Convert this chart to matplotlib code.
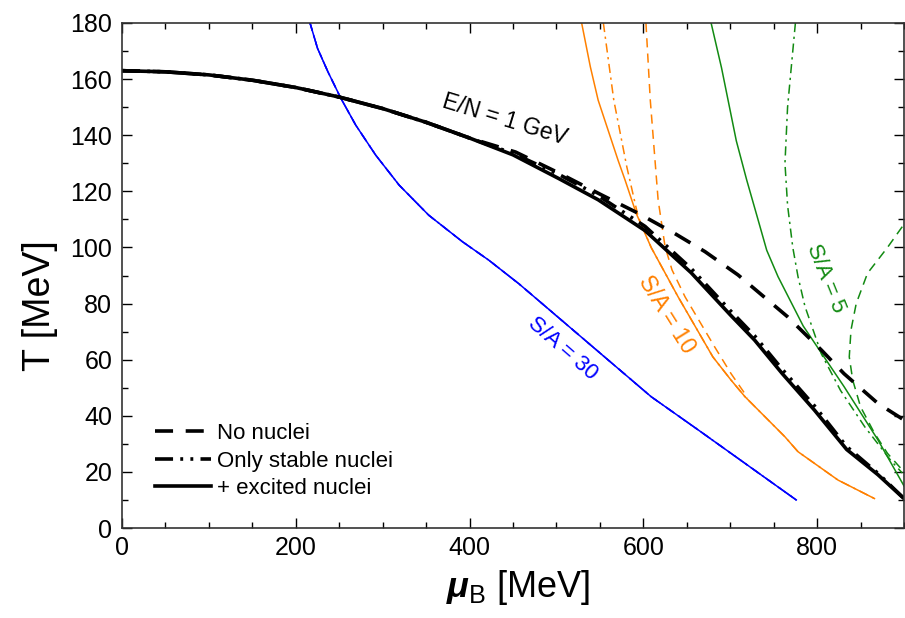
import matplotlib
matplotlib.use("Agg")
import matplotlib.pyplot as plt
from matplotlib.ticker import MultipleLocator

plt.rcParams["font.family"] = ["Liberation Sans", "DejaVu Sans"]
plt.rcParams["mathtext.fontset"] = "custom"
plt.rcParams["mathtext.rm"] = "Liberation Sans"
plt.rcParams["mathtext.it"] = "Liberation Sans:italic:bold"

# E/N = 1 GeV freeze-out lines
mu_no_nuclei = [0, 50, 100, 150, 200, 250, 300, 350, 400, 453, 503, 552, 594, 636, 671, 709, 766, 805, 831, 870, 900]
T_no_nuclei = [163, 162.6, 161.5, 159.6, 157, 153.6, 149.5, 144.6, 139, 134, 126.5, 118.7, 112.2, 105, 98.5, 90.2, 75.3, 63.4, 55, 44.4, 38.5]

mu_stable = [0, 50, 100, 150, 200, 250, 300, 350, 400, 450, 503, 548, 602, 655, 700, 728, 760, 797, 834, 870, 900]
T_stable = [163, 162.6, 161.5, 159.6, 157, 153.6, 149.5, 144.6, 139, 133.5, 126, 118.5, 107.5, 92.5, 77.5, 68.5, 56.5, 43.5, 29, 19.5, 10.5]

mu_excited = [0, 50, 100, 150, 200, 250, 300, 350, 400, 450, 503, 548, 602, 655, 700, 728, 760, 797, 834, 870, 900]
T_excited = [163, 162.6, 161.5, 159.6, 157, 153.6, 149.5, 144.6, 139, 133, 124.5, 117, 106, 91, 76, 67, 55, 42, 28, 19, 10.5]

# S/A = 30 (all three variants coincide)
mu_sa30 = [216, 225, 237, 252, 269, 292, 319, 353, 392, 422, 457, 609, 663, 776]
T_sa30 = [180.4, 171, 162.6, 153.1, 143.6, 132.9, 122.2, 111.5, 102, 95.5, 87, 46.8, 35, 10]

# S/A = 10
mu_sa10_excited = [529, 539, 548, 571, 579, 592, 609, 640, 680, 701, 717, 763, 778, 824, 866]
T_sa10_excited = [180, 164.4, 152.5, 131, 124, 112, 100, 82.4, 61, 52.7, 46.8, 32.5, 27.2, 17.1, 10.5]
mu_sa10_stable = [554, 566, 581, 594, 609, 640, 680, 701, 717, 763, 778, 824, 866]
T_sa10_stable = [180, 152.5, 128.7, 111, 100, 82.4, 61, 52.7, 46.8, 32.5, 27.2, 17.1, 10.5]
mu_sa10_none = [603, 608, 617, 625, 633, 648, 682, 701, 720]
T_sa10_none = [180, 152.5, 117, 100.3, 92, 82.4, 64.6, 55, 46.5]

# S/A = 5
mu_sa5_excited = [678, 690, 707, 719, 731, 742, 755, 784, 831, 870, 900]
T_sa5_excited = [180, 164, 138, 124, 111, 99, 89.6, 72, 50.4, 31.4, 15]
mu_sa5_stable = [775, 766, 763, 766, 772, 778, 786, 805, 827, 855, 885, 898]
T_sa5_stable = [180, 150, 130, 115, 100, 89.6, 79, 62, 49, 36, 24, 19.6]
mu_sa5_none = [898, 881, 858, 845, 839, 837, 841, 850, 866, 881, 898]
T_sa5_none = [107.4, 100, 90.8, 80, 70.6, 61, 52.7, 43.2, 33.8, 26.6, 20.7]

BLUE = "#0000ff"
ORANGE = "#ff8000"
GREEN = "#128a12"

fig = plt.figure(figsize=(9.05, 6.18), dpi=100)
ax = fig.add_axes([0.1348, 0.1456, 0.8641, 0.8172])

thin = 1.1
ax.plot(mu_sa30, T_sa30, color=BLUE, lw=thin, dashes=(6, 4))
ax.plot(mu_sa30, T_sa30, color=BLUE, lw=thin, dashes=(6, 3, 1.5, 3))
ax.plot(mu_sa30, T_sa30, color=BLUE, lw=thin)

ax.plot(mu_sa10_none, T_sa10_none, color=ORANGE, lw=thin, dashes=(6, 4))
ax.plot(mu_sa10_stable, T_sa10_stable, color=ORANGE, lw=thin, dashes=(6, 3, 1.5, 3))
ax.plot(mu_sa10_excited, T_sa10_excited, color=ORANGE, lw=thin)

ax.plot(mu_sa5_none, T_sa5_none, color=GREEN, lw=thin, dashes=(6, 4))
ax.plot(mu_sa5_stable, T_sa5_stable, color=GREEN, lw=thin, dashes=(6, 3, 1.5, 3))
ax.plot(mu_sa5_excited, T_sa5_excited, color=GREEN, lw=thin)

thick = 2.6
ax.plot(mu_no_nuclei, T_no_nuclei, color="black", lw=thick, dashes=(5, 3.5), label="No nuclei")
ax.plot(mu_stable, T_stable, color="black", lw=thick, dashes=(5, 2, 0.8, 2, 0.8, 2), label="Only stable nuclei")
ax.plot(mu_excited, T_excited, color="black", lw=thick, label="+ excited nuclei")

# curve labels
ax.text(440, 145.5, "E/N = 1 GeV", fontsize=16.5, rotation=-17, ha="center", va="center")
ax.text(507, 64, "S/A = 30", fontsize=16, color=BLUE, rotation=-41, ha="center", va="center")
ax.text(627, 76, "S/A = 10", fontsize=16.5, color=ORANGE, rotation=-58, ha="center", va="center")
ax.text(810, 89, "S/A = 5", fontsize=16, color=GREEN, rotation=-68, ha="center", va="center")

ax.set_xlim(0, 900)
ax.set_ylim(0, 180)
ax.xaxis.set_major_locator(MultipleLocator(200))
ax.xaxis.set_minor_locator(MultipleLocator(50))
ax.yaxis.set_major_locator(MultipleLocator(20))
ax.yaxis.set_minor_locator(MultipleLocator(10))
ax.tick_params(which="both", direction="in", top=True, right=True, width=1.0)
ax.tick_params(which="major", length=7)
ax.tick_params(which="minor", length=4)
ax.tick_params(axis="y", labelsize=18, pad=7)
ax.tick_params(axis="x", labelsize=18, pad=6)
for sp in ax.spines.values():
    sp.set_linewidth(1.2)
    sp.set_color("#333333")

ax.set_xlabel(r"$\mu_{\mathrm{B}}$ [MeV]", fontsize=26)
ax.set_ylabel("T [MeV]", fontsize=27)
ax.xaxis.set_label_coords(0.507, -0.079)
ax.yaxis.set_label_coords(-0.082, 0.44)

ax.legend(loc="lower left", bbox_to_anchor=(0.028, 0.035), frameon=False,
          fontsize=16, handlelength=2.5, handletextpad=0.27,
          labelspacing=0.3, borderpad=0)

fig.savefig("out.png", dpi=100)
